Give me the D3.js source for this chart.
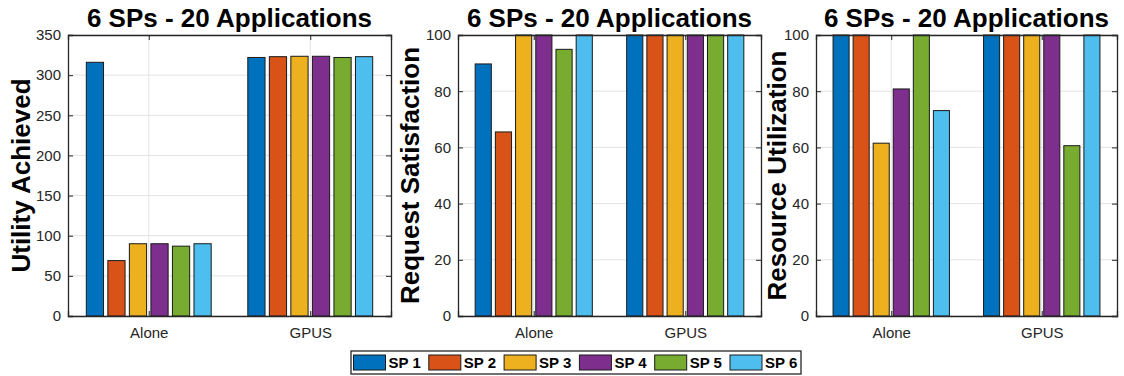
<!DOCTYPE html>
<html>
<head>
    <title>6 SPs - 20 Applications</title>
    <script src="https://d3js.org/d3.v7.min.js"></script>
    <style>
        body { margin: 0; background: #fff; }
        text { font-family: "Liberation Sans", Arial, sans-serif; }
    </style>
</head>
<body>
    <div id="chart"></div>
    <script>
        var categories = ["Alone", "GPUS"];
        var series = ["SP 1", "SP 2", "SP 3", "SP 4", "SP 5", "SP 6"];
        var colors = ["#0072BD", "#D95319", "#EDB120", "#7E2F8E", "#77AC30", "#4DBEEE"];

        // one row per category, one value per SP
        var utility = [[316, 69, 90, 90, 87, 90], [322, 323, 323.5, 323.5, 322, 323]];
        var satisfaction = [[89.7, 65.5, 100, 100, 94.9, 100], [100, 100, 100, 100, 100, 100]];
        var resource = [[100, 100, 61.5, 80.8, 100, 73.1], [100, 100, 100, 100, 60.6, 100]];

        var utilityTicks = [0, 50, 100, 150, 200, 250, 300, 350];
        var percentTicks = [0, 20, 40, 60, 80, 100];

        var panels = [
            {data: utility, label: "Utility Achieved", max: 350, ticks: utilityTicks, left: 68, right: 391, labelX: 21},
            {data: satisfaction, label: "Request Satisfaction", max: 100, ticks: percentTicks, left: 458, right: 761, labelX: 410},
            {data: resource, label: "Resource Utilization", max: 100, ticks: percentTicks, left: 816, right: 1117, labelX: 777}
        ];

        var plotTop = 35, plotBottom = 316;
        var axisColor = "#262626";

        var svg = d3.select("#chart")
            .append("svg")
                .attr("width", 1124)
                .attr("height", 376);

        panels.forEach(function(p) {
            var x = d3.scaleLinear().domain([0.5, 2.5]).range([p.left, p.right]);
            var y = d3.scaleLinear().domain([0, p.max]).range([plotBottom, plotTop]);
            var g = svg.append("g");

            // grid
            g.selectAll(".hgrid")
                .data(p.ticks)
                .enter().append("line")
                    .attr("x1", p.left).attr("x2", p.right)
                    .attr("y1", function(d) { return y(d); })
                    .attr("y2", function(d) { return y(d); })
                    .attr("stroke", "#e3e3e3");
            g.selectAll(".vgrid")
                .data(categories)
                .enter().append("line")
                    .attr("x1", function(d, i) { return x(i + 1); })
                    .attr("x2", function(d, i) { return x(i + 1); })
                    .attr("y1", plotTop).attr("y2", plotBottom)
                    .attr("stroke", "#e3e3e3");

            // bars
            var slot = 0.8 / series.length;
            p.data.forEach(function(row, i) {
                g.selectAll(".bar" + i)
                    .data(row)
                    .enter().append("rect")
                        .attr("x", function(d, j) { return x(i + 1 + (j - 2.5) * slot - slot * 0.4); })
                        .attr("width", x(slot * 0.8) - x(0))
                        .attr("y", function(d) { return y(d); })
                        .attr("height", function(d) { return plotBottom - y(d); })
                        .attr("fill", function(d, j) { return colors[j]; })
                        .attr("stroke", "#1a1a1a")
                        .attr("stroke-width", 1);
            });

            // axes
            var yAxis = g.append("g")
                .attr("transform", "translate(" + p.left + ",0)")
                .call(d3.axisLeft(y).tickValues(p.ticks).tickSize(-5).tickPadding(7));
            var yRight = g.append("g")
                .attr("transform", "translate(" + p.right + ",0)")
                .call(d3.axisRight(y).tickValues(p.ticks).tickSize(-5).tickFormat(""));
            var xAxis = g.append("g")
                .attr("transform", "translate(0," + plotBottom + ")")
                .call(d3.axisBottom(x).tickValues([1, 2]).tickSize(-5).tickPadding(8)
                    .tickFormat(function(d) { return categories[d - 1]; }));
            var xTop = g.append("g")
                .attr("transform", "translate(0," + plotTop + ")")
                .call(d3.axisTop(x).tickValues([1, 2]).tickSize(-5).tickFormat(""));

            [yAxis, yRight, xAxis, xTop].forEach(function(a) {
                a.select(".domain").attr("stroke", axisColor).attr("stroke-width", 1.3);
                a.selectAll(".tick line").attr("stroke", axisColor);
                a.selectAll(".tick text")
                    .attr("fill", axisColor)
                    .style("font-size", "15px")
                    .style("font-family", "Liberation Sans, Arial, sans-serif");
            });
            xAxis.selectAll(".tick text").attr("dy", "0.9em");

            // title and y label
            g.append("text")
                .attr("x", (p.left + p.right) / 2)
                .attr("y", 27)
                .style("text-anchor", "middle")
                .style("font-weight", "bold")
                .style("font-size", "26px")
                .text("6 SPs - 20 Applications");
            g.append("text")
                .attr("transform", "translate(" + p.labelX + "," + ((plotTop + plotBottom) / 2) + ") rotate(-90)")
                .attr("dy", "0.35em")
                .style("text-anchor", "middle")
                .style("font-weight", "bold")
                .style("font-size", "26px")
                .text(p.label);
        });

        // legend
        var legend = svg.append("g");
        legend.append("rect")
            .attr("x", 351).attr("y", 351)
            .attr("width", 450).attr("height", 23)
            .attr("fill", "#fff")
            .attr("stroke", axisColor)
            .attr("stroke-width", 1.3);
        var items = legend.selectAll(".item")
            .data(series)
            .enter().append("g")
                .attr("transform", function(d, i) { return "translate(" + (353.5 + i * 75.3) + ",355)"; });
        items.append("rect")
            .attr("width", 32).attr("height", 15)
            .attr("fill", function(d, i) { return colors[i]; })
            .attr("stroke", "#1a1a1a");
        items.append("text")
            .attr("x", 35).attr("y", 13)
            .style("font-weight", "bold")
            .style("font-size", "15px")
            .text(function(d) { return d; });
    </script>
</body>
</html>
